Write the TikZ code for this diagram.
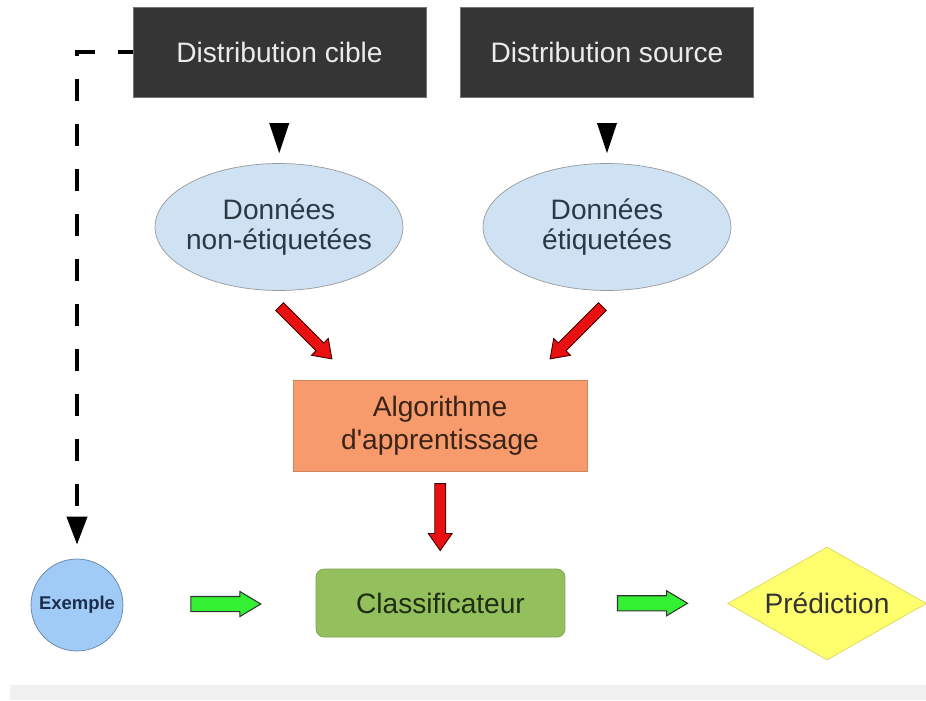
\documentclass[tikz,border=0pt]{standalone}
\usepackage{fontspec}
\setmainfont{Liberation Sans}
\usetikzlibrary{shapes.geometric,shapes.arrows,arrows.meta}

\definecolor{boxgrey}{HTML}{353535}
\definecolor{datablue}{HTML}{CFE2F3}
\definecolor{datatext}{HTML}{2B3845}
\definecolor{algoorange}{HTML}{F89B6C}
\definecolor{algotext}{HTML}{3A2418}
\definecolor{classgreen}{HTML}{93C05D}
\definecolor{classtext}{HTML}{1F2D12}
\definecolor{exblue}{HTML}{9FCBF6}
\definecolor{extext}{HTML}{1B2D4A}
\definecolor{predyellow}{HTML}{FFFF6E}
\definecolor{arrowred}{HTML}{E81010}
\definecolor{arrowgreen}{HTML}{33F033}

\tikzset{
    distbox/.style={rectangle, fill=boxgrey, draw=black!55, text=white!92!black,
        minimum width=5.86cm, minimum height=1.8cm, inner sep=0pt,
        font=\fontsize{16}{18}\selectfont},
    databox/.style={ellipse, fill=datablue, draw=black!40,
        minimum width=4.96cm, minimum height=2.54cm, inner sep=0pt},
    datalabel/.style={text=datatext, align=center, inner sep=0pt,
        font=\fontsize{16}{17.5}\selectfont},
    algobox/.style={rectangle, fill=algoorange, draw=algoorange!85!black, text=algotext,
        minimum width=5.88cm, minimum height=1.82cm, inner sep=0pt, align=center,
        font=\fontsize{16}{18.5}\selectfont},
    classbox/.style={rectangle, rounded corners=0.16cm, fill=classgreen, draw=classgreen!85!black,
        text=classtext, minimum width=4.98cm, minimum height=1.36cm, inner sep=0pt,
        font=\fontsize{16}{18}\selectfont},
    examplecircle/.style={circle, fill=exblue, draw=exblue!65!black, text=extext,
        minimum size=1.84cm, inner sep=0pt, font=\fontsize{10.5}{12}\selectfont\bfseries},
    predbox/.style={diamond, aspect=1.76, fill=predyellow, draw=predyellow!85!black, text=black!80,
        minimum width=3.98cm, minimum height=2.26cm, inner sep=0pt,
        font=\fontsize{16}{18}\selectfont},
    pointer/.style={isosceles triangle, isosceles triangle stretches, fill=black,
        minimum width=0.4cm, minimum height=0.6cm, inner sep=0pt, rotate=-90},
    redarrow/.style={single arrow, fill=arrowred, draw=black!75!red, line width=0.5pt,
        inner xsep=0pt, inner ysep=0.1cm, single arrow head extend=0.13cm,
        single arrow tip angle=70},
    greenarrow/.style={single arrow, fill=arrowgreen, draw=black!80, line width=0.6pt,
        inner xsep=0pt, inner ysep=0.14cm, single arrow head extend=0.1cm,
        single arrow tip angle=62, minimum height=1.4cm},
    dashedlink/.style={line width=2.3pt, dash pattern=on 0.44cm off 0.46cm, dash phase=0.14cm,
        shorten >=0.28cm, -{Triangle[length=0.56cm,width=0.4cm]}}
}

\begin{document}
\begin{tikzpicture}[x=0.02cm,y=-0.02cm]
    \useasboundingbox (0,0) rectangle (926,700);
    \fill[black!6] (10,685) rectangle (926,700);

    \node[distbox] (cible) at (279.5,52) {Distribution cible};
    \node[distbox] (source) at (607,52) {Distribution source};

    \node[databox, label={[datalabel]center:{Données\\non-étiquetées}}] (nonetiq) at (279,227) {};
    \node[databox, label={[datalabel]center:{Données\\étiquetées}}] (etiq) at (607,227) {};

    \node[algobox] (algo) at (440,425.5) {Algorithme\\d\textquotesingle apprentissage};
    \node[classbox] (classif) at (440.5,603) {Classificateur};
    \node[examplecircle] (exemple) at (77,605) {Exemple};
    \node[predbox] (pred) at (827,603.5) {Prédiction};

    \path (cible.south) -- (nonetiq.north) node[pointer, midway] (ptcible) {};
    \path (source.south) -- (etiq.north) node[pointer, midway] (ptsource) {};

    \node[redarrow, minimum height=1.48cm, rotate=-45] (redleft) at (303,330) {};
    \node[redarrow, minimum height=1.48cm, rotate=-135] (redright) at (579,330) {};
    \path (algo.south) -- (classif.north) node[redarrow, minimum height=1.34cm, rotate=-90, pos=0.43] (reddown) {};

    \path (exemple.east) -- (classif.west) node[greenarrow, midway] (greenin) {};
    \path (classif.east) -- (pred.west) node[greenarrow, midway] (greenout) {};

    \draw[dashedlink] (cible.west) -| (exemple.north);
\end{tikzpicture}
\end{document}
